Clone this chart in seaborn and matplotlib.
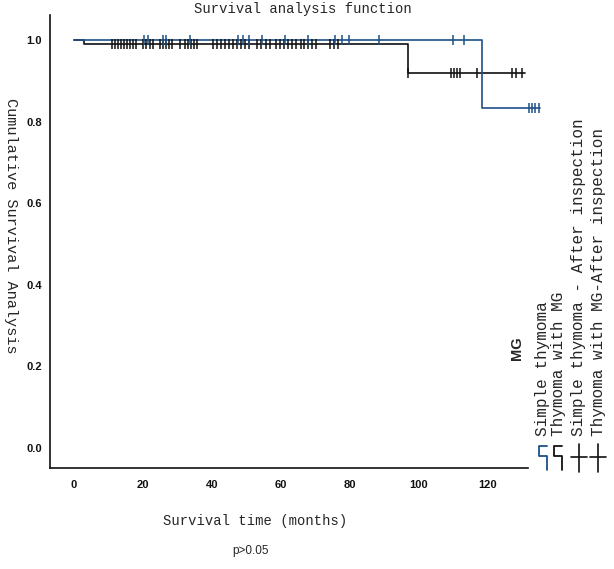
import numpy as np
import pandas as pd
import matplotlib
matplotlib.use("Agg")
import matplotlib.pyplot as plt
from matplotlib.lines import Line2D
import seaborn as sns

# ---- data ----
groups = ["Simple thymoma", "Thymoma with MG"]
simple_step_time = [0.0, 118.4, 135.2]
simple_step_surv = [1.0, 0.833, 0.833]
mg_step_time = [0.0, 3.0, 97.0, 130.9]
mg_step_surv = [1.0, 0.99, 0.92, 0.92]

simple_censor = [20.3, 21.5, 25.8, 26.7, 33.7, 47.6, 49.0, 50.8, 54.6, 61.2,
                 67.9, 75.7, 77.8, 79.8, 88.5, 110.0, 113.2,
                 131.9, 132.8, 133.8, 134.8]
mg_censor = [11.0, 11.9, 12.8, 13.6, 14.5, 15.4, 16.3, 17.1, 18.0,
             20.0, 20.9, 22.1, 22.9,
             25.0, 25.8, 26.7, 27.6, 28.4,
             30.8, 32.2, 33.1, 34.0, 34.8, 35.7,
             40.3, 41.5, 42.7, 43.8, 45.0, 46.1, 47.3, 48.5, 49.6, 50.8,
             53.1, 54.3, 55.7, 56.9,
             58.6, 59.8, 60.9, 62.1, 63.3, 64.4,
             65.9, 66.7, 67.9, 69.0, 70.2,
             74.3, 75.5, 76.6,
             97.0, 109.4, 110.1, 111.1, 112.1, 116.9, 127.0, 128.3, 129.9]

x_ticks = [0, 20, 40, 60, 80, 100, 120]
y_ticks = [0.0, 0.2, 0.4, 0.6, 0.8, 1.0]
legend_labels = ["Simple thymoma", "Thymoma with MG",
                 "Simple thymoma - After inspection",
                 "Thymoma with MG-After inspection"]

colors = {"Simple thymoma": "#1d4f86", "Thymoma with MG": "#111111"}

# ---- build tables ----
steps = pd.concat([
    pd.DataFrame({"time": simple_step_time, "surv": simple_step_surv, "group": groups[0]}),
    pd.DataFrame({"time": mg_step_time, "surv": mg_step_surv, "group": groups[1]}),
], ignore_index=True)


def level_at(ts, st, sv):
    idx = np.searchsorted(np.asarray(st), np.asarray(ts), side="right") - 1
    return np.asarray(sv)[idx]


cens = pd.concat([
    pd.DataFrame({"time": simple_censor,
                  "surv": level_at(simple_censor, simple_step_time, simple_step_surv),
                  "group": groups[0]}),
    pd.DataFrame({"time": mg_censor,
                  "surv": level_at(mg_censor, mg_step_time, mg_step_surv),
                  "group": groups[1]}),
], ignore_index=True)

# ---- figure ----
sns.set_style("white")
plt.rcParams["font.family"] = ["Liberation Sans", "DejaVu Sans"]
W, H = 614, 569
fig = plt.figure(figsize=(W / 100, H / 100), dpi=100)
ax = fig.add_axes([50 / W, (H - 468) / H, 496.2 / W, 452.9 / H])

sns.lineplot(data=steps[steps.group == groups[1]], x="time", y="surv",
             color=colors[groups[1]], drawstyle="steps-post", estimator=None,
             linewidth=1.2, ax=ax, legend=False, clip_on=False)
sns.lineplot(data=steps[steps.group == groups[0]], x="time", y="surv",
             color=colors[groups[0]], drawstyle="steps-post", estimator=None,
             linewidth=1.2, ax=ax, legend=False, clip_on=False)
for g in [groups[1], groups[0]]:
    sub = cens[cens.group == g]
    sns.scatterplot(data=sub, x="time", y="surv", marker="|", s=55,
                    color=colors[g], linewidth=1.1, ax=ax, legend=False,
                    clip_on=False, zorder=3)

ax.set_xlim(-7, 137)
ax.set_ylim(-0.049, 1.061)
ax.set_xticks(x_ticks)
ax.set_yticks(y_ticks)
ax.set_xticklabels([str(t) for t in x_ticks])
ax.set_yticklabels([f"{t:.1f}" for t in y_ticks])
ax.tick_params(axis="both", length=0, labelsize=8, colors="#111111")
ax.tick_params(axis="x", pad=9)
ax.tick_params(axis="y", pad=6)
for lab in ax.get_xticklabels() + ax.get_yticklabels():
    lab.set_fontweight("bold")
ax.set_xlabel("")
ax.set_ylabel("")
for s in ["top", "right"]:
    ax.spines[s].set_visible(False)
for s in ["left", "bottom"]:
    ax.spines[s].set_color("#111111")
    ax.spines[s].set_linewidth(1.2)
ax.spines["bottom"].set_bounds(-7, 131.7)

mono = ["Liberation Mono", "DejaVu Sans Mono"]
fig.text(303 / W, 1 - 9 / H, "Survival analysis function", family=mono,
         fontsize=10, ha="center", va="center")
fig.text(11 / W, 1 - 226 / H, "Cumulative Survival Analysis", family=mono,
         fontsize=11, rotation=270, ha="center", va="center")
fig.text(255 / W, 1 - 521 / H, "Survival time (months)", family=mono,
         fontsize=10, ha="center", va="center")
fig.text(251 / W, 1 - 551 / H, "p>0.05", fontsize=8.5, ha="center", va="center")

# ---- rotated legend ----
fig.text(517 / W, 1 - 348 / H, "MG", fontsize=10.5, fontweight="bold",
         rotation=90, ha="center", va="center")
text_x = [543, 558, 579, 598]
for lab, tx in zip(legend_labels, text_x):
    fig.text(tx / W, 1 - 436 / H, lab, family=mono, fontsize=11.5, rotation=90,
             ha="center", va="bottom")


def fx(px):
    return px / W


def fy(py):
    return 1 - py / H


sym_col = [colors[groups[0]], colors[groups[1]], "#111111", "#111111"]
for i, cx in enumerate(text_x[:2]):
    xs = [cx + 4, cx - 4, cx - 4, cx + 4, cx + 4]
    ys = [446, 446, 456, 456, 470]
    fig.add_artist(Line2D([fx(v) for v in xs], [fy(v) for v in ys],
                          color=sym_col[i], lw=1.3, transform=fig.transFigure))
for i, cx in enumerate(text_x[2:], start=2):
    fig.add_artist(Line2D([fx(cx), fx(cx)], [fy(444), fy(472)],
                          color=sym_col[i], lw=1.2, transform=fig.transFigure))
    fig.add_artist(Line2D([fx(cx - 8), fx(cx + 8)], [fy(457), fy(457)],
                          color=sym_col[i], lw=1.2, transform=fig.transFigure))

fig.savefig("out.png", dpi=100)
